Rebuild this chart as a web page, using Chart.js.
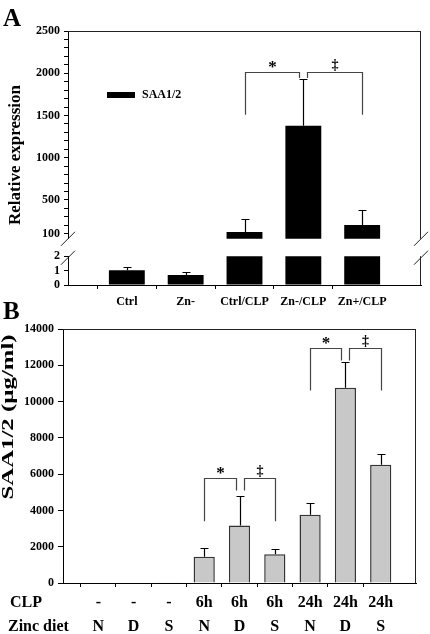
<!DOCTYPE html>
<html lang="en">
<head>
<meta charset="UTF-8">
<meta name="viewport" content="width=device-width, initial-scale=1.0">
<title>SAA1/2 expression</title>
<script src="https://cdn.jsdelivr.net/npm/chart.js"></script>
<style>
    body {
        margin: 0;
        background: #fff;
    }

    .fig {
        position: relative;
        width: 430px;
        height: 634px;
        overflow: hidden;
    }

    .fig canvas {
        position: absolute;
        left: 0;
    }

    #chartA1 { top: 0; }
    #chartA2 { top: 245px; }
    #chartB { top: 295px; }

    .panel {
        position: absolute;
        left: 3px;
        font-family: "Liberation Serif", "Times New Roman", serif;
        font-weight: bold;
        font-size: 25px;
        line-height: 1;
    }
</style>
</head>
<body>
<div class="fig">
    <canvas id="chartA1" width="430" height="250"></canvas>
    <canvas id="chartA2" width="430" height="70"></canvas>
    <canvas id="chartB" width="430" height="339"></canvas>
    <div class="panel" style="top:5px">A</div>
    <div class="panel" style="top:298px">B</div>
</div>

<script>
    // panel A - relative expression, broken axis
    var categoriesA = ['Ctrl', 'Zn-', 'Ctrl/CLP', 'Zn-/CLP', 'Zn+/CLP'];
    var saaA = [1.03, 0.69, 121, 1377, 203];
    var saaErrA = [0.25, 0.22, 157, 559, 177];
    var upperTicksA = [100, 500, 1000, 1500, 2000, 2500];
    var lowerTicksA = [0, 1, 2];

    // panel B - serum SAA1/2
    var clpB = ['-', '-', '-', '6h', '6h', '6h', '24h', '24h', '24h'];
    var zincB = ['N', 'D', 'S', 'N', 'D', 'S', 'N', 'D', 'S'];
    var saaB = [25, 30, 45, 1450, 3175, 1580, 3760, 10760, 6520];
    var saaErrB = [0, 0, 0, 480, 1615, 290, 630, 1430, 590];
    var yTicksB = [0, 2000, 4000, 6000, 8000, 10000, 12000, 14000];

    var SERIF = '"Liberation Serif", "Times New Roman", serif';

    // empty slot at each end so bars sit at 1..n of 0..n+1
    function pad(arr, fill) { return [fill].concat(arr, [fill]); }

    function tickFont(size) { return { family: SERIF, size: size, weight: 'bold' }; }

    function plain(v) { return String(v); }

    function edgeTick(last) {
        return function (c) { return (c.index === 0 || c.index === last) ? 'rgba(0,0,0,0)' : '#000'; };
    }

    var decoPlugin = {
        id: 'deco',
        afterDatasetsDraw: function (chart, args, o) {
            var ctx = chart.ctx, a = chart.chartArea;
            var xs = chart.scales.x, ys = chart.scales.y;
            ctx.save();

            // frame
            ctx.strokeStyle = '#222';
            ctx.lineWidth = 1;
            ctx.beginPath();
            if (o.frameTop) {
                ctx.moveTo(a.left, a.top + 0.5);
                ctx.lineTo(a.right, a.top + 0.5);
            }
            ctx.moveTo(a.right - 0.5, a.top);
            ctx.lineTo(a.right - 0.5, a.bottom);
            ctx.stroke();

            // axis break marks
            if (o.breakAt) {
                var by = o.breakAt === 'bottom' ? a.bottom : a.top + 1.5;
                ctx.beginPath();
                [a.left, a.right].forEach(function (bx) {
                    ctx.moveTo(bx - 7, by + 7);
                    ctx.lineTo(bx + 7, by - 7);
                });
                ctx.stroke();
            }

            // error bars (clipped to plot area)
            ctx.save();
            ctx.beginPath();
            ctx.rect(a.left, a.top - 1, a.right - a.left, a.bottom - a.top + 1);
            ctx.clip();
            ctx.strokeStyle = '#000';
            ctx.lineWidth = 1.2;
            ctx.beginPath();
            var ds = chart.data.datasets[0];
            chart.getDatasetMeta(0).data.forEach(function (bar, i) {
                var v = ds.data[i], e = o.errors[i];
                if (v == null || !e) return;
                var x = Math.round(bar.x) + 0.5;
                var y0 = ys.getPixelForValue(v), y1 = Math.round(ys.getPixelForValue(v + e)) + 0.5;
                ctx.moveTo(x, y0);
                ctx.lineTo(x, y1);
                ctx.moveTo(x - 4, y1);
                ctx.lineTo(x + 4, y1);
            });
            ctx.stroke();
            ctx.restore();

            // significance brackets
            (o.brackets || []).forEach(function (b) {
                var top = Math.round(ys.getPixelForValue(b.top)) + 0.5;
                var outer = ys.getPixelForValue(b.outerLeg);
                var inner = ys.getPixelForValue(b.innerLeg);
                var xl = Math.round(xs.getPixelForValue(b.left + 1)) + 0.5;
                var xp = Math.round(xs.getPixelForValue(b.peak + 1)) + 0.5;
                var xr = Math.round(xs.getPixelForValue(b.right + 1)) + 0.5;
                ctx.strokeStyle = '#444';
                ctx.lineWidth = 1.2;
                ctx.beginPath();
                ctx.moveTo(xl, outer); ctx.lineTo(xl, top); ctx.lineTo(xp - 4, top); ctx.lineTo(xp - 4, inner);
                ctx.moveTo(xp + 4, inner); ctx.lineTo(xp + 4, top); ctx.lineTo(xr, top); ctx.lineTo(xr, outer);
                ctx.stroke();
                ctx.fillStyle = '#000';
                ctx.textAlign = 'center';
                ctx.textBaseline = 'middle';
                ctx.font = 'bold 17px ' + SERIF;
                ctx.fillText(b.marks[0], (xl + xp - 4) / 2, top - 5);
                ctx.font = 'bold 14px ' + SERIF;
                ctx.fillText(b.marks[1], (xp + 4 + xr) / 2, top - 7);
            });

            // legend
            if (o.legend) {
                ctx.fillStyle = '#000';
                ctx.fillRect(o.legend.x, o.legend.y - 3, 28, 6);
                ctx.font = 'bold 12px ' + SERIF;
                ctx.textAlign = 'left';
                ctx.textBaseline = 'middle';
                ctx.fillText(ds.label, o.legend.x + 35, o.legend.y);
            }

            // rotated y title
            if (o.yTitle) {
                var t = o.yTitle;
                ctx.save();
                ctx.translate(t.x, t.y);
                ctx.rotate(-Math.PI / 2);
                ctx.scale(t.stretch || 1, 1);
                ctx.font = 'bold ' + t.size + 'px ' + SERIF;
                ctx.fillStyle = '#000';
                ctx.textAlign = 'center';
                ctx.textBaseline = 'middle';
                ctx.fillText(t.text, 0, 0);
                ctx.restore();
            }

            // row headers under the x axis
            (o.rowHeads || []).forEach(function (h) {
                ctx.font = 'bold 16px ' + SERIF;
                ctx.fillStyle = '#000';
                ctx.textAlign = 'left';
                ctx.textBaseline = 'middle';
                ctx.fillText(h.text, h.x, h.y);
            });

            ctx.restore();
        }
    };

    var common = {
        responsive: false,
        animation: false,
        events: [],
        plugins: { legend: { display: false }, tooltip: { enabled: false } }
    };

    function opts(extra) {
        return Object.assign({}, common, extra, {
            plugins: Object.assign({}, common.plugins, extra.plugins)
        });
    }

    // ---- A upper segment ----
    new Chart(document.getElementById('chartA1'), {
        type: 'bar',
        plugins: [decoPlugin],
        data: {
            labels: pad(categoriesA, ''),
            datasets: [{
                label: 'SAA1/2',
                data: pad(saaA, null),
                backgroundColor: '#000',
                categoryPercentage: 1,
                barPercentage: 0.61
            }]
        },
        options: opts({
            layout: { padding: { top: 31, right: 9, bottom: 9, left: 0 } },
            scales: {
                x: { type: 'category', offset: false, display: false },
                y: {
                    min: 40, max: 2500,
                    afterFit: function (s) { s.width = 68; },
                    afterBuildTicks: function (s) {
                        var t = [];
                        for (var v = upperTicksA[0]; v <= upperTicksA[upperTicksA.length - 1]; v += 100) t.push({ value: v });
                        s.ticks = t;
                    },
                    ticks: {
                        autoSkip: false, padding: 4, color: '#000', font: tickFont(12),
                        callback: function (v) { return upperTicksA.indexOf(v) >= 0 ? String(v) : ''; }
                    },
                    grid: { drawOnChartArea: false, tickLength: 4, color: '#000' },
                    border: { color: '#000', width: 1 }
                }
            },
            plugins: {
                deco: {
                    frameTop: true,
                    breakAt: 'bottom',
                    errors: pad(saaErrA, 0),
                    brackets: [{ left: 2, peak: 3, right: 4, top: 2020, outerLeg: 1510, innerLeg: 1945, marks: ['*', '‡'] }],
                    legend: { x: 107, y: 95 },
                    yTitle: { text: 'Relative expression', x: 16, y: 155, size: 17 }
                }
            }
        })
    });

    // ---- A lower segment ----
    new Chart(document.getElementById('chartA2'), {
        type: 'bar',
        plugins: [decoPlugin],
        data: {
            labels: pad(categoriesA, ''),
            datasets: [{
                label: 'SAA1/2',
                data: pad(saaA, null),
                backgroundColor: '#000',
                categoryPercentage: 1,
                barPercentage: 0.61
            }]
        },
        options: opts({
            layout: { padding: { top: 9.5, right: 9, bottom: 0, left: 0 } },
            scales: {
                x: {
                    type: 'category', offset: false,
                    afterFit: function (s) { s.height = 30; },
                    ticks: { autoSkip: false, maxRotation: 0, padding: 6, color: '#000', font: tickFont(12) },
                    grid: { drawOnChartArea: false, tickLength: 4, tickColor: edgeTick(categoriesA.length + 1) },
                    border: { color: '#000', width: 1 }
                },
                y: {
                    min: 0, max: 2,
                    afterFit: function (s) { s.width = 68; },
                    afterBuildTicks: function (s) { s.ticks = lowerTicksA.map(function (v) { return { value: v }; }); },
                    ticks: { autoSkip: false, padding: 4, color: '#000', font: tickFont(12), callback: plain },
                    grid: { drawOnChartArea: false, tickLength: 4, color: '#000' },
                    border: { color: '#000', width: 1 }
                }
            },
            plugins: {
                deco: { breakAt: 'top', errors: pad(saaErrA, 0) }
            }
        })
    });

    // ---- B ----
    var labelsB = clpB.map(function (c, i) { return [c, zincB[i]]; });

    new Chart(document.getElementById('chartB'), {
        type: 'bar',
        plugins: [decoPlugin],
        data: {
            labels: pad(labelsB, ''),
            datasets: [{
                label: 'SAA1/2',
                data: pad(saaB, null),
                backgroundColor: '#c8c8c8',
                borderColor: '#333',
                borderWidth: 1.5,
                categoryPercentage: 1,
                barPercentage: 0.6
            }]
        },
        options: opts({
            layout: { padding: { top: 34, right: 14, bottom: 0, left: 0 } },
            scales: {
                x: {
                    type: 'category', offset: false,
                    afterFit: function (s) { s.height = 51; },
                    ticks: {
                        autoSkip: false, maxRotation: 0, padding: 3.5, color: '#000',
                        font: { family: SERIF, size: 16, weight: 'bold', lineHeight: 1.5 }
                    },
                    grid: { drawOnChartArea: false, tickLength: 4, tickColor: edgeTick(clpB.length + 1) },
                    border: { color: '#000', width: 1 }
                },
                y: {
                    min: 0, max: 14000,
                    afterFit: function (s) { s.width = 63; },
                    afterBuildTicks: function (s) { s.ticks = yTicksB.map(function (v) { return { value: v }; }); },
                    ticks: { autoSkip: false, padding: 4, color: '#000', font: tickFont(12), callback: plain },
                    grid: { drawOnChartArea: false, tickLength: 5, color: '#000' },
                    border: { color: '#000', width: 1 }
                }
            },
            plugins: {
                deco: {
                    frameTop: true,
                    errors: pad(saaErrB, 0),
                    brackets: [
                        { left: 3, peak: 4, right: 5, top: 5790, outerLeg: 3400, innerLeg: 5100, marks: ['*', '‡'] },
                        { left: 6, peak: 7, right: 8, top: 12980, outerLeg: 10610, innerLeg: 12265, marks: ['*', '‡'] }
                    ],
                    yTitle: { text: 'SAA1/2 (µg/ml)', x: 9, y: 122, size: 16, stretch: 1.55 },
                    rowHeads: [{ text: 'CLP', x: 10, y: 308 }, { text: 'Zinc diet', x: 8, y: 332 }]
                }
            }
        })
    });
</script>
</body>
</html>
